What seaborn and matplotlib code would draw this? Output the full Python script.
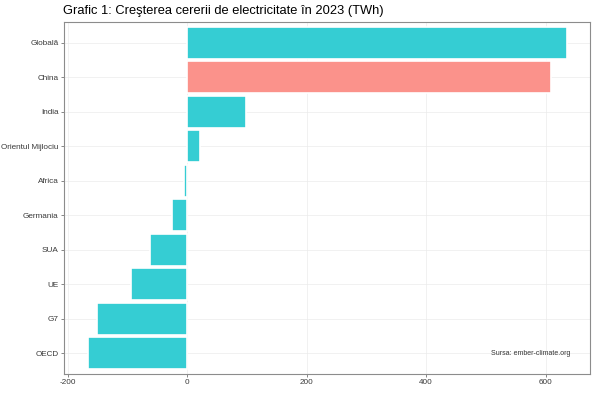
import matplotlib
matplotlib.use("Agg")
import matplotlib.pyplot as plt
import pandas as pd
import seaborn as sns

regions = ["Globală", "China", "India", "Orientul Mijlociu", "Africa",
           "Germania", "SUA", "UE", "G7", "OECD"]
growth = [636, 609, 99, 22, -6, -25, -62, -94, -151, -166]
highlight = ["no", "yes", "no", "no", "no", "no", "no", "no", "no", "no"]
x_ticks = [-200, 0, 200, 400, 600]

TEAL = "#35CDD3"
SALMON = "#FB928B"

df = pd.DataFrame({"region": regions, "twh": growth, "hl": highlight})

sns.set_style("white")
plt.rcParams["font.family"] = ["Liberation Sans", "DejaVu Sans"]

fig = plt.figure(figsize=(6, 3.99), dpi=100)
ax = fig.add_axes([0.107, 0.063, 0.876, 0.882])

sns.barplot(data=df, y="region", x="twh", hue="hl", order=regions,
            palette={"no": TEAL, "yes": SALMON}, dodge=False, width=0.92,
            saturation=1, edgecolor="white", linewidth=1.2, legend=False, ax=ax)

ax.set_xlim(-206, 674)
ax.set_ylim(9.6, -0.6)
ax.set_xticks(x_ticks)
ax.set_xticklabels([str(t) for t in x_ticks])
ax.set_xlabel("")
ax.set_ylabel("")
ax.grid(True, color="#EBEBEB", linewidth=0.5)
ax.set_axisbelow(True)
for s in ax.spines.values():
    s.set_color("#8C8C8C")
    s.set_linewidth(0.8)
ax.tick_params(axis="both", bottom=True, left=True, length=2.5, width=0.5,
               color="#555555", labelsize=5.9, labelcolor="#3A3A3A", pad=1.5)

ax.text(641, 9, "Sursa: ember-climate.org", fontsize=5, color="#333333",
        ha="right", va="center")

fig.text(0.105, 0.973, "Grafic 1: Creşterea cererii de electricitate în 2023 (TWh)",
         fontsize=9.3, ha="left", va="center", color="black")

fig.savefig("out.png", dpi=100)
